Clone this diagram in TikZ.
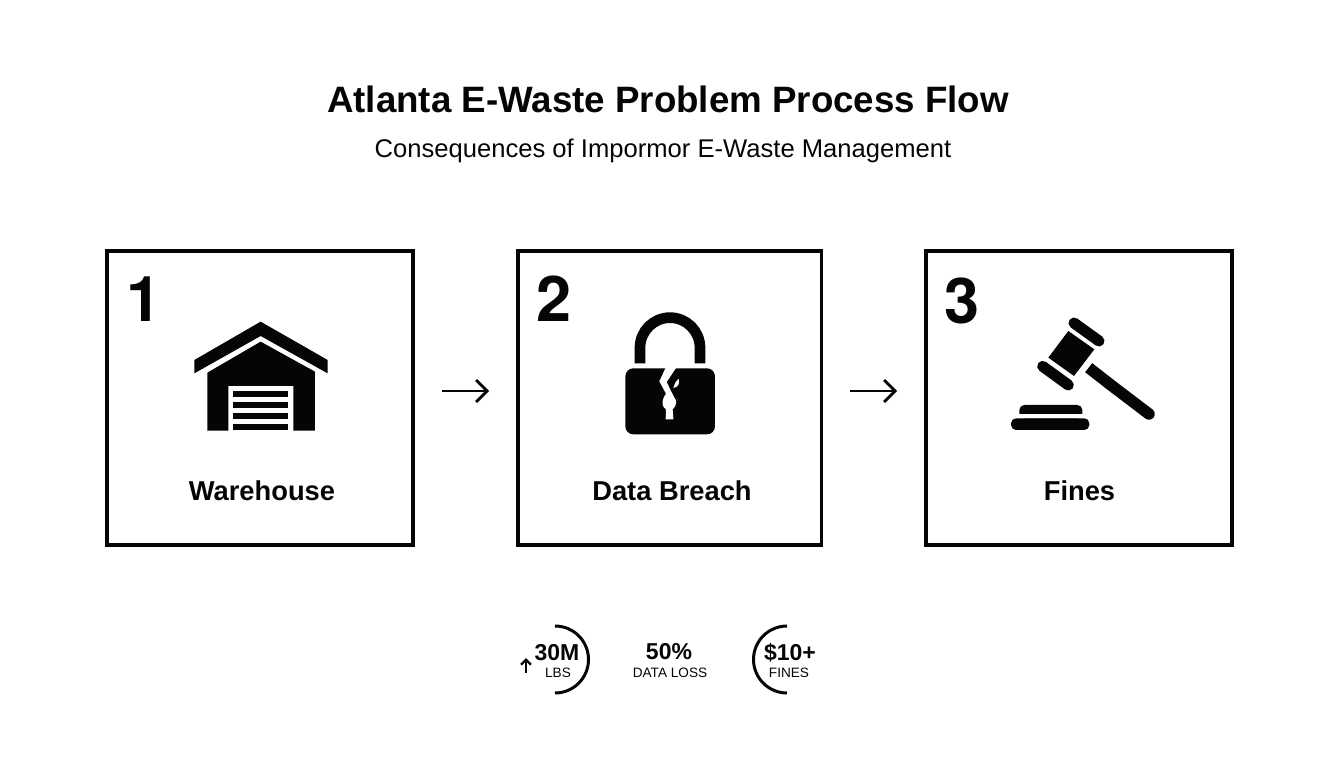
\documentclass[tikz,border=0pt]{standalone}
\usepackage{fontspec}
\setmainfont{Liberation Sans}
\newfontfamily\numfont{TeX Gyre Heros}
\usetikzlibrary{arrows.meta}
\definecolor{ink}{HTML}{050505}
\tikzset{
  card/.style={draw=ink,line width=3.6pt,fill=white,inner sep=0pt,outer sep=0pt,anchor=north west},
  bignum/.style={font=\fontsize{63}{63}\selectfont\numfont\bfseries,inner sep=0pt,text=ink},
  cardlabel/.style={font=\fontsize{27.3}{27}\selectfont\bfseries,inner sep=0pt,text=ink},
  statbig/.style={font=\fontsize{23}{23}\selectfont\bfseries,inner sep=0pt,text=ink},
  statsmall/.style={font=\fontsize{13.6}{13}\selectfont,inner sep=0pt,text=ink},
  flow/.style={line width=2.6pt,draw=ink,-{Straight Barb[length=11pt,width=22pt,line width=2.8pt]}},
  ring/.style={line width=3pt,draw=ink},
  zoomA/.style={shift={(#1)},x=0.3333pt,y=-0.3333pt},
}
\begin{document}
\begin{tikzpicture}[x=1pt,y=-1pt]
\useasboundingbox (0,0) rectangle (1344,768);
\fill[white] (0,0) rectangle (1344,768);
\node[font=\fontsize{36.7}{36}\selectfont\bfseries,text=ink,inner sep=0pt] (title) at (668,99.5) {Atlanta E-Waste Problem Process Flow};
\node[font=\fontsize{25.6}{25}\selectfont,text=ink,inner sep=0pt] (subtitle) at (663,151) {Consequences of Impormor E-Waste Management};

\node[card,minimum width=306pt,minimum height=294.3pt] (box1) at (107,250.7) {};
\node[card,minimum width=303.5pt,minimum height=294.3pt] (box2) at (518,250.7) {};
\node[card,minimum width=306pt,minimum height=294.3pt] (box3) at (926,250.7) {};

\node[bignum] (n1) at (144,299) {1};
\node[bignum] (n2) at (554.5,299) {2};
\node[bignum] (n3) at (962,301) {3};
\node[cardlabel] (l1) at (262,491) {Warehouse};
\node[cardlabel] (l2) at (672,491) {Data Breach};
\node[cardlabel] (l3) at (1079.5,491) {Fines};

\coordinate (a1s) at (442,391); \coordinate (a1e) at (489,391);
\coordinate (a2s) at (850,391); \coordinate (a2e) at (897,391);
\draw[flow] (a1s) -- (a1e);
\draw[flow] (a2s) -- (a2e);

% warehouse
\begin{scope}[zoomA={170,300}]
\fill[ink] (272,65) -- (473,180) -- (473,220) -- (272,108) -- (73,220) -- (73,180) -- cycle;
\fill[ink] (272,125) -- (435,215) -- (435,392) -- (370,392) -- (370,258) -- (175,258) -- (175,392) -- (112,392) -- (112,218) -- cycle;
\fill[ink] (190,273) rectangle (355,292);
\fill[ink] (190,307) rectangle (355,325);
\fill[ink] (190,340) rectangle (355,358);
\fill[ink] (190,373) rectangle (355,391);
\end{scope}

% broken lock
\begin{scope}[zoomA={600,300}]
\draw[ink,line width=10.7pt] (120,190) -- (120,143) arc[start angle=180,end angle=360,radius=90] -- (300,190);
\fill[ink,rounded corners=8pt] (76,205) rectangle (345,403);
\end{scope}
\begin{scope}[zoomA={650,362}]
\fill[white] (48,15) -- (80,15) -- (50,60) -- (72,105) .. controls (82,115) and (80,132) .. (68,142) -- (70,172) -- (47,172) -- (48,142)
  .. controls (36,135) and (32,118) .. (48,95) -- (28,58) -- cycle;
\fill[white] (86,50) .. controls (90,62) and (86,76) .. (70,78) .. controls (72,68) and (76,60) .. (86,50) -- cycle;
\end{scope}

% gavel
\begin{scope}[zoomA={1000,305}]
\fill[ink] (205,78) -- (283,133) -- (222,213) -- (145,158) -- cycle;
\draw[ink,line width=11pt,line cap=round] (222,54) -- (297,108);
\draw[ink,line width=11pt,line cap=round] (128,184) -- (205,240);
\draw[ink,line width=11.5pt] (266,188) -- (330,238);
\draw[ink,line width=11.5pt,line cap=round] (330,238) -- (447,327);
\fill[ink,rounded corners=5pt] (58,340) -- (58,300) -- (247,300) -- (247,340) -- cycle;
\fill[white] (50,328) rectangle (255,340);
\fill[ink,rounded corners=5pt] (33,340) rectangle (268,375);
\end{scope}

% stats
\node[statbig] (s1) at (557,653) {30M};
\node[statsmall] (s1b) at (558,673) {LBS};
\node[statbig] (s2) at (669,652) {50\%};
\node[statsmall] (s2b) at (670,673) {DATA LOSS};
\node[statbig] (s3) at (790,653) {\$10+};
\node[statsmall] (s3b) at (789,673) {FINES};
\draw[ring] (555,626) arc[start angle=-90,end angle=90,radius=33.5];
\draw[ring] (787,626) arc[start angle=-90,end angle=-270,radius=33.5];
\coordinate (ups) at (526,673); \coordinate (upe) at (526,658);
\draw[line width=2.4pt,draw=ink,-{Straight Barb[length=5pt,width=10pt,line width=2.4pt]}] (ups) -- (upe);
\end{tikzpicture}
\end{document}
